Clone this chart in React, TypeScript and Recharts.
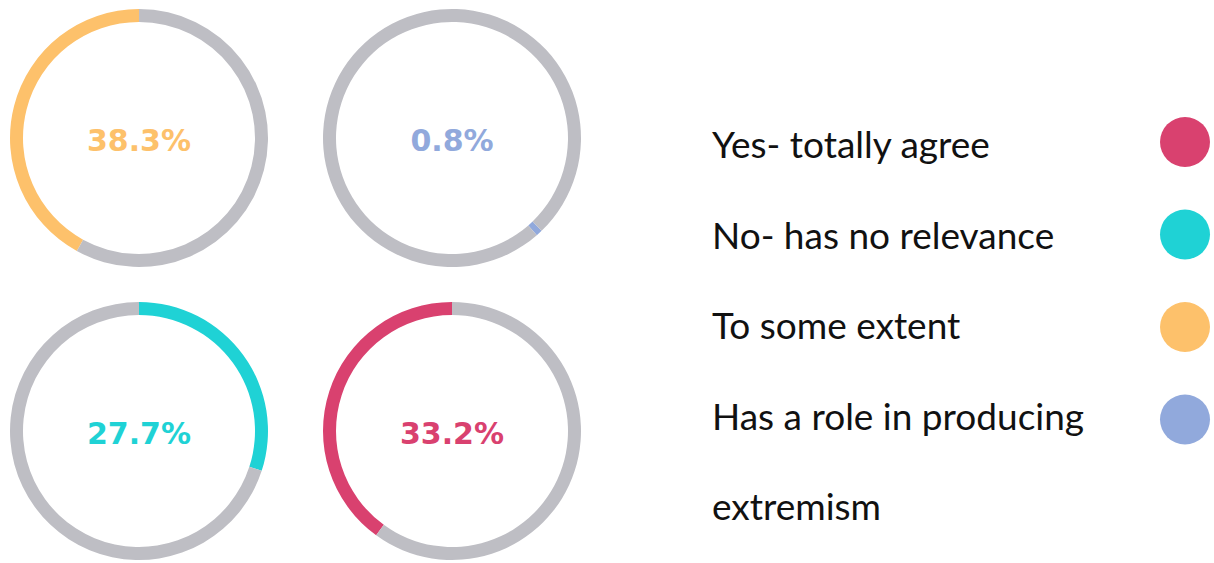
import React from 'react';
import { PieChart, Pie, Cell, Label } from 'recharts';

// legend categories and their colours
const categories = ['Yes- totally agree', 'No- has no relevance', 'To some extent', 'Has a role in producing extremism'];
const categoryColors = ['#d9416f', '#1fd2d5', '#fdc16b', '#91a9dc'];
const legendLines = [['Yes- totally agree'], ['No- has no relevance'], ['To some extent'], ['Has a role in producing', 'extremism']];

// the four rings, in reading order (top-left, top-right, bottom-left, bottom-right)
const ringCategory = [2, 3, 1, 0];
const ringLabels = ['38.3%', '0.8%', '27.7%', '33.2%'];
const ringShare = [42, 0.8, 30, 40]; // arc length as drawn, % of the circle
const ringRest = [58, 99.2, 70, 60];
const ringStart = [90, -46, 90, 90];
const ringClockwise = [false, true, true, false];

const TRACK = '#bebec4';

const W = 1214;
const H = 563;
const centers = [
  { x: 139, y: 138 },
  { x: 452, y: 138 },
  { x: 139, y: 431 },
  { x: 452, y: 431 },
];

const CenterText = ({ x, y, value, color }: { x: number; y: number; value: string; color: string }) => (
  <text
    x={x}
    y={y}
    textAnchor="middle"
    dominantBaseline="central"
    fill={color}
    style={{ fontFamily: '"DejaVu Sans", sans-serif', fontWeight: 700, fontSize: 30 }}
  >
    {value}
  </text>
);

export default function App() {
  return (
    <div style={{ position: 'absolute', left: 0, top: 0, width: W, height: H, background: '#fff' }}>
      <PieChart width={W} height={H} margin={{ top: 0, right: 0, bottom: 0, left: 0 }}>
        {ringShare.map((share, i) => {
          const color = categoryColors[ringCategory[i]];
          const data = [
            { name: categories[ringCategory[i]], value: share },
            { name: 'rest', value: ringRest[i] },
          ];
          return (
            <Pie
              key={i}
              data={data}
              dataKey="value"
              cx={centers[i].x}
              cy={centers[i].y}
              innerRadius={116}
              outerRadius={129}
              startAngle={ringStart[i]}
              endAngle={ringClockwise[i] ? ringStart[i] - 360 : ringStart[i] + 360}
              stroke="none"
              isAnimationActive={false}
            >
              <Cell fill={color} />
              <Cell fill={TRACK} />
              <Label
                position="center"
                content={() => <CenterText x={centers[i].x} y={centers[i].y + 2} value={ringLabels[i]} color={color} />}
              />
            </Pie>
          );
        })}
      </PieChart>

      <svg width={W} height={H} style={{ position: 'absolute', left: 0, top: 0, pointerEvents: 'none' }}>
        {legendLines.map((lines, i) =>
          lines.map((line, j) => (
            <text
              key={`${i}-${j}`}
              x={712}
              y={158 + (i + j) * 90.5}
              fill="#111"
              style={{ fontFamily: 'Lato, sans-serif', fontSize: 37 }}
            >
              {line}
            </text>
          ))
        )}
        {categoryColors.map((c, i) => (
          <circle key={c} cx={1185} cy={142 + i * 92.5} r={25} fill={c} />
        ))}
      </svg>
    </div>
  );
}
